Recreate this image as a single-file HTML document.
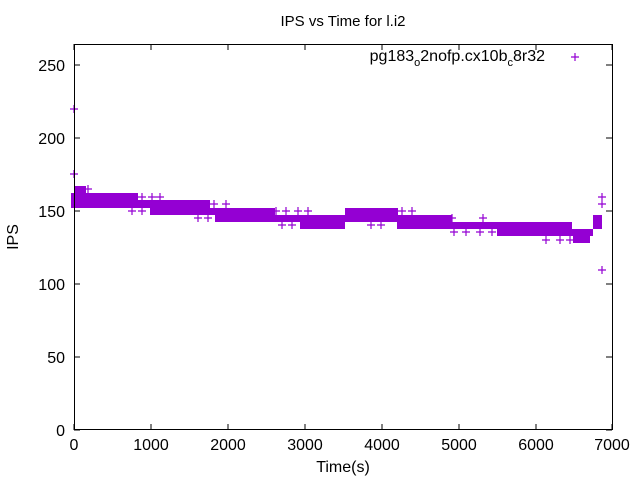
<!DOCTYPE html>
<html><head><style>body{margin:0;background:#fff}svg{display:block}</style></head><body>
<svg width="640" height="480" xmlns="http://www.w3.org/2000/svg" font-family="Liberation Sans, sans-serif" font-size="16">
<rect width="640" height="480" fill="#fff"/>
<g fill="#9400d3">
<rect x="71" y="193" width="67" height="8"/>
<rect x="71" y="200" width="139" height="8"/>
<rect x="150" y="208" width="125" height="7"/>
<rect x="215" y="215" width="130" height="7"/>
<rect x="300" y="222" width="45" height="7"/>
<rect x="345" y="208" width="53" height="7"/>
<rect x="340" y="215" width="112" height="7"/>
<rect x="397" y="222" width="175" height="7"/>
<rect x="497" y="229" width="96" height="7"/>
<rect x="573" y="236" width="17" height="7"/>
<rect x="593" y="215" width="9" height="14"/>
<rect x="74" y="186" width="12" height="7"/>
</g>
<g stroke="#9400d3" stroke-width="1.2" fill="none">
<path d="M84 189h8M88 185v8M138 197h8M142 193v8M148 197h8M152 193v8M156 197h8M160 193v8M210 204h8M214 200v8M222 204h8M226 200v8M128 211h8M132 207v8M138 211h8M142 207v8M272 211h8M276 207v8M282 211h8M286 207v8M294 211h8M298 207v8M304 211h8M308 207v8M194 218h8M198 214v8M204 218h8M208 214v8M278 225h8M282 221v8M288 225h8M292 221v8M398 211h8M402 207v8M408 211h8M412 207v8M367 225h8M371 221v8M377 225h8M381 221v8M448 218h8M452 214v8M479 218h8M483 214v8M450 232h8M454 228v8M462 232h8M466 228v8M476 232h8M480 228v8M488 232h8M492 228v8M542 240h8M546 236v8M556 240h8M560 236v8M566 240h8M570 236v8M598 197h8M602 193v8M598 204h8M602 200v8M598 270h8M602 266v8M571 57h8M575 53v8M70 174h8M74 170v8M70 109h8M74 105v8"/>
</g>
<rect x="74.5" y="44.5" width="538" height="385" fill="none" stroke="#000"/>
<g stroke="#000">
<path d="M74 430h6M74 357h6M74 284h6M74 211h6M74 138h6M74 65h6M612 430h-6M612 357h-6M612 284h-6M612 211h-6M612 138h-6M612 65h-6"/>
<path d="M74 430v-6M151 430v-6M228 430v-6M305 430v-6M382 430v-6M459 430v-6M536 430v-6M612 430v-6M74 44v6M151 44v6M228 44v6M305 44v6M382 44v6M459 44v6M536 44v6M612 44v6"/>
</g>
<g text-anchor="end">
<text x="65" y="436">0</text><text x="65" y="363">50</text><text x="65" y="290">100</text><text x="65" y="217">150</text><text x="65" y="144">200</text><text x="65" y="71">250</text>
</g>
<g text-anchor="middle">
<text x="74" y="450">0</text><text x="151" y="450">1000</text><text x="228" y="450">2000</text><text x="305" y="450">3000</text><text x="382" y="450">4000</text><text x="459" y="450">5000</text><text x="536" y="450">6000</text><text x="612" y="450">7000</text>
<text x="343" y="472">Time(s)</text>
<text x="343" y="26" font-size="15">IPS vs Time for l.i2</text>
</g>
<text transform="translate(18,237) rotate(-90)" text-anchor="middle">IPS</text>
<text x="545" y="61" text-anchor="end">pg183<tspan font-size="11" dy="5">o</tspan><tspan dy="-5">2nofp.cx10b</tspan><tspan font-size="11" dy="5">c</tspan><tspan dy="-5">8r32</tspan></text>
</svg>
</body></html>
